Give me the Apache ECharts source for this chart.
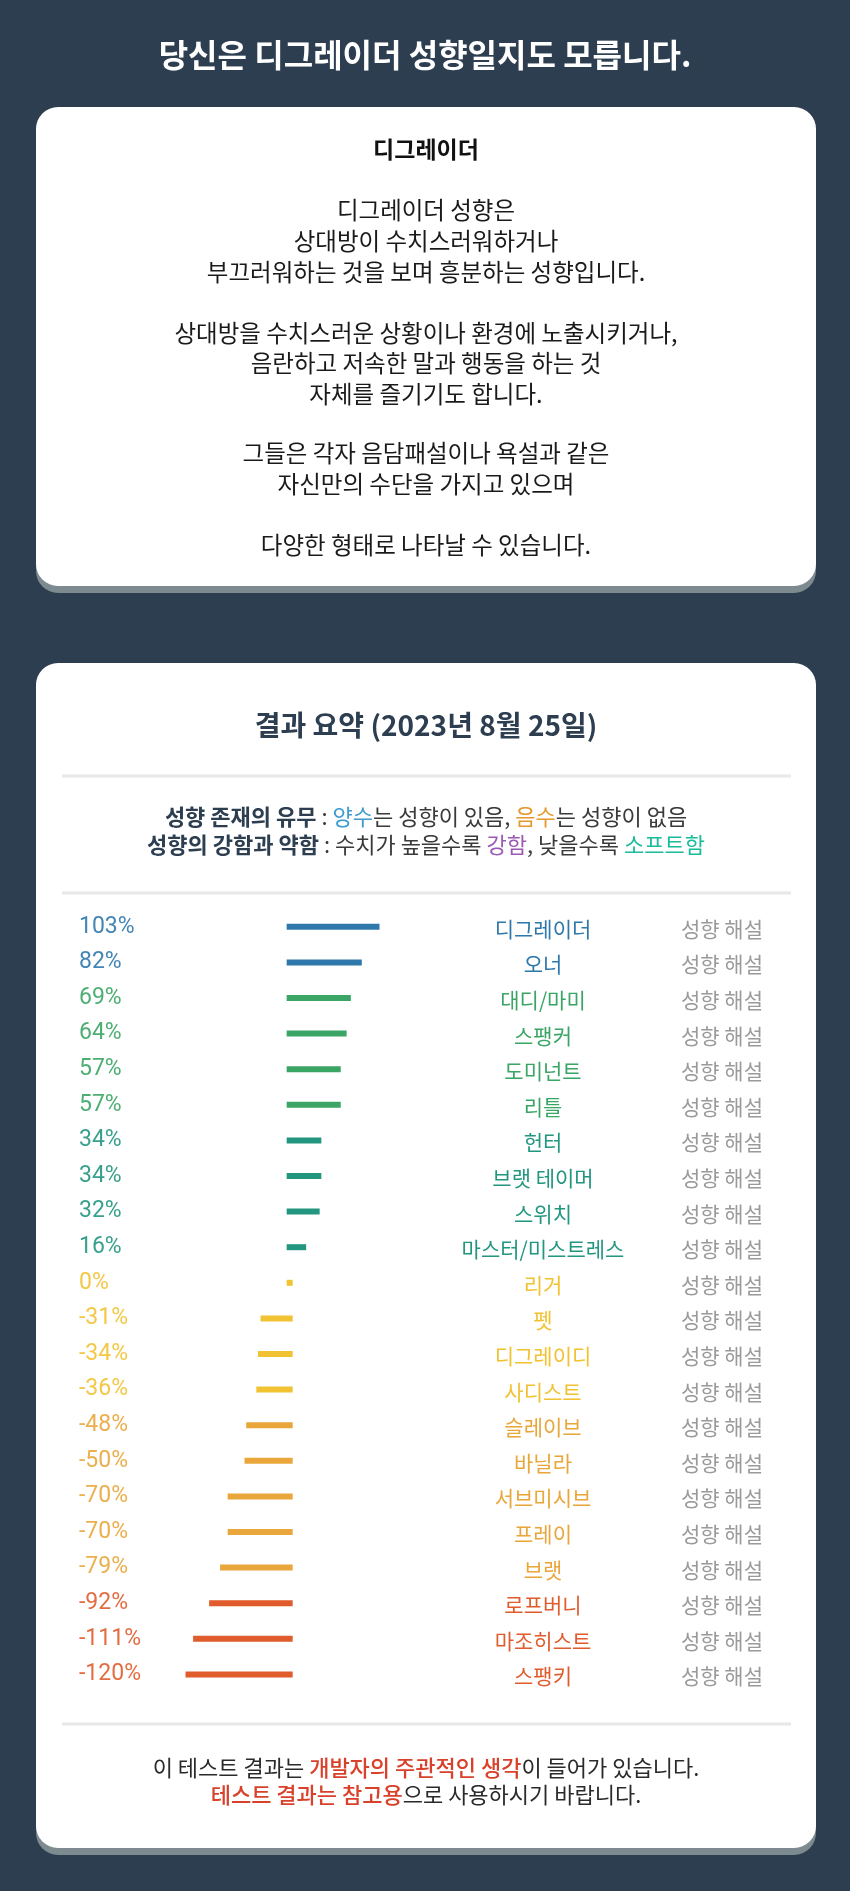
<!DOCTYPE html>
<html>
<head>
<meta charset="utf-8">
<script src="https://cdn.jsdelivr.net/npm/echarts@6/dist/echarts.min.js"></script>
<style>
  html, body { margin: 0; padding: 0; background: #2c3e50; }
  #chart { width: 850px; height: 1891px; }
</style>
</head>
<body>
<div id="chart"></div>
<script>
// ---- data ----
const categories = ['디그레이더','오너','대디/마미','스팽커','도미넌트','리틀','헌터','브랫 테이머','스위치','마스터/미스트레스','리거','펫','디그레이디','사디스트','슬레이브','바닐라','서브미시브','프레이','브랫','로프버니','마조히스트','스팽키'];
const values = [103, 82, 69, 64, 57, 57, 34, 34, 32, 16, 0, -31, -34, -36, -48, -50, -70, -70, -79, -92, -111, -120];
const percentSuffix = '%';
const detailLabel = '성향 해설';

const pageTitle = '당신은 디그레이더 성향일지도 모릅니다.';
const introTitle = '디그레이더';
const introLines = [
  '디그레이더 성향은',
  '상대방이 수치스러워하거나',
  '부끄러워하는 것을 보며 흥분하는 성향입니다.',
  '상대방을 수치스러운 상황이나 환경에 노출시키거나,',
  '음란하고 저속한 말과 행동을 하는 것',
  '자체를 즐기기도 합니다.',
  '그들은 각자 음담패설이나 욕설과 같은',
  '자신만의 수단을 가지고 있으며',
  '다양한 형태로 나타날 수 있습니다.'
];
const summaryTitle = '결과 요약 (2023년 8월 25일)';

// ---- styles ----
const colorBands = [
  { min: 80, color: '#2f78ab' },
  { min: 50, color: '#3aa565' },
  { min: 10, color: '#22967f' },
  { min: -45, color: '#f1c232' },
  { min: -85, color: '#e9a63a' },
  { min: -Infinity, color: '#e05c2c' }
];
function bandColor(v) {
  for (const b of colorBands) if (v >= b.min) return b.color;
  return '#999';
}
const KR = '"Noto Sans CJK KR", "Noto Sans", sans-serif';

const introY = [210, 241, 272, 333, 363, 394, 453, 484, 545];

const graphics = [];
function card(y, h) {
  graphics.push({ type: 'rect', z: -20, silent: true,
    shape: { x: 36, y: y + 7, width: 780, height: h, r: 22 },
    style: { fill: '#7d8a8f' } });
  graphics.push({ type: 'rect', z: -19, silent: true,
    shape: { x: 36, y: y, width: 780, height: h, r: 22 },
    style: { fill: '#ffffff' } });
}
card(107, 479);
card(663, 1185);

function text(t, x, y, font, fill, extra) {
  graphics.push(Object.assign({ type: 'text', z: 5, silent: true,
    style: Object.assign({ text: t, x: x, y: y, font: font, fill: fill,
      align: 'center', verticalAlign: 'middle' }, extra || {}) }));
}
function divider(y) {
  graphics.push({ type: 'rect', z: -5, silent: true,
    shape: { x: 62, y: y - 1.5, width: 729, height: 3 },
    style: { fill: '#e8e8e8' } });
}

text(pageTitle, 425, 55, 'bold 32px ' + KR, '#ffffff');
text(introTitle, 426, 149, 'bold 23px ' + KR, '#111111');
introLines.forEach((l, i) => text(l, 426, introY[i], '23.5px ' + KR, '#1a1a1a'));

text(summaryTitle, 426, 725, 'bold 28px ' + KR, '#2c3e50');
divider(776);
divider(893);
divider(1724);

const fs = 22;
text('{b|성향 존재의 유무} : {blue|양수}는 성향이 있음, {orange|음수}는 성향이 없음',
  426, 817, fs + 'px ' + KR, '#3a3a3a', {
    rich: {
      b: { fontWeight: 'bold', fill: '#2c3e50', fontSize: fs, fontFamily: KR },
      blue: { fill: '#3d9bd0', fontSize: fs, fontFamily: KR },
      orange: { fill: '#e59a2f', fontSize: fs, fontFamily: KR }
    }
  });
text('{b|성향의 강함과 약함} : 수치가 높을수록 {purple|강함}, 낮을수록 {teal|소프트함}',
  426, 845, fs + 'px ' + KR, '#3a3a3a', {
    rich: {
      b: { fontWeight: 'bold', fill: '#2c3e50', fontSize: fs, fontFamily: KR },
      purple: { fill: '#9b59b6', fontSize: fs, fontFamily: KR },
      teal: { fill: '#1abc9c', fontSize: fs, fontFamily: KR }
    }
  });

text('이 테스트 결과는 {r|개발자의 주관적인 생각}이 들어가 있습니다.',
  426, 1768, fs + 'px ' + KR, '#2a2a2a', {
    rich: { r: { fill: '#d9412b', fontSize: fs, fontFamily: KR, fontWeight: 500 } }
  });
text('{r|테스트 결과는 참고용}으로 사용하시기 바랍니다.',
  426, 1795, fs + 'px ' + KR, '#2a2a2a', {
    rich: { r: { fill: '#d9412b', fontSize: fs, fontFamily: KR, fontWeight: 500 } }
  });

const chart = echarts.init(document.getElementById('chart'), null, { renderer: 'canvas' });
chart.setOption({
  backgroundColor: '#2c3e50',
  animation: false,
  graphic: graphics,
  grid: { left: 100, width: 379.35, top: 909, height: 783.2 },
  xAxis: { type: 'value', min: -225, max: 225, show: false },
  yAxis: { type: 'category', data: categories, inverse: true, show: false },
  series: [{
    type: 'custom',
    z: 10,
    data: values.map((v, i) => [v, i]),
    renderItem: function (params, api) {
      const v = api.value(0);
      const idx = api.value(1);
      const p0 = api.coord([0, idx]);
      const p1 = api.coord([v, idx]);
      const c = bandColor(v);
      const xa = Math.min(p0[0], p1[0]) - 3;
      const xb = Math.max(p0[0], p1[0]) + 3;
      return {
        type: 'group',
        children: [
          { type: 'rect', shape: { x: xa, y: p0[1] - 3, width: xb - xa, height: 6 }, style: { fill: c } },
          { type: 'text', style: { text: v + percentSuffix, x: 79, y: p0[1], fill: c,
              font: '23px Roboto, sans-serif', align: 'left', verticalAlign: 'middle', opacity: 0.9 } },
          { type: 'text', style: { text: categories[idx], x: 543, y: p0[1] + 2, fill: c,
              font: '21px ' + KR, align: 'center', verticalAlign: 'middle' } },
          { type: 'text', style: { text: detailLabel, x: 722, y: p0[1] + 2, fill: '#9a9a9a',
              font: '21px ' + KR, align: 'center', verticalAlign: 'middle' } }
        ]
      };
    }
  }]
});
</script>
</body>
</html>
